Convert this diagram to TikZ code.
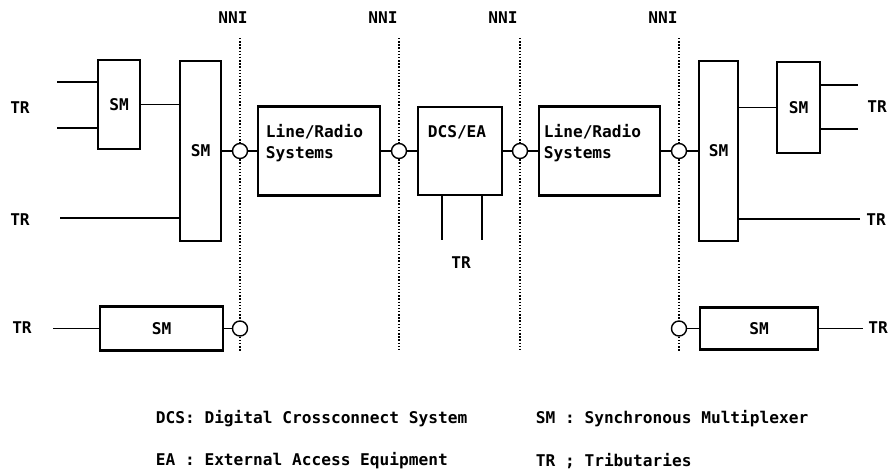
\documentclass[tikz,border=0pt]{standalone}
\usepackage{fontspec}
\setmainfont{DejaVu Sans Mono}
\begin{document}
\begin{tikzpicture}[x=0.02cm, y=-0.02cm, line width=1pt,
	  txt/.style={font=\bfseries\fontsize{9.2}{11.5}\selectfont},
	  box/.style={draw, inner sep=0pt, line width=1.2pt, txt},
	  nni/.style={draw, circle, inner sep=0pt, minimum size=0.3cm, line width=0.8pt},
	  sep/.style={line width=0.8pt, dash pattern=on 0.8pt off 1pt},
	  lbl/.style={txt, inner sep=0pt},
	  legend/.style={txt, inner sep=0pt, anchor=west}]
	  \useasboundingbox (0,0) rectangle (892,471);
	  
	  \node[box, minimum width=0.84cm, minimum height=1.78cm] (sm1) at (119,104.5) {SM};
	  \node[box, minimum width=0.82cm, minimum height=3.6cm] (sm2) at (200.5,151) {SM};
	  \node[box, minimum width=2.44cm, minimum height=1.78cm] (lr1) at (319,151) {};
	  \node[box, minimum width=1.68cm, minimum height=1.76cm] (dcs) at (460,151) {};
	  \node[box, minimum width=2.42cm, minimum height=1.78cm] (lr2) at (599.5,151) {};
	  \node[box, minimum width=0.78cm, minimum height=3.6cm] (sm3) at (718.5,151) {SM};
	  \node[box, minimum width=0.86cm, minimum height=1.82cm] (sm4) at (798.5,107.5) {SM};
	  \node[box, minimum width=2.46cm, minimum height=0.88cm] (sm5) at (161.5,328.5) {SM};
	  \node[box, minimum width=2.36cm, minimum height=0.84cm] (sm6) at (759,328.5) {SM};
	  
	  \node[lbl, anchor=north west, align=left] (lr1t) at ([xshift=0.16cm, yshift=-0.37cm]lr1.north west) {Line/Radio\\Systems};
	  \node[lbl, anchor=north west, align=left] (lr2t) at ([xshift=0.1cm, yshift=-0.37cm]lr2.north west) {Line/Radio\\Systems};
	  \node[lbl, anchor=north] (dcst) at ([xshift=-0.06cm, yshift=-0.37cm]dcs.north) {DCS/EA};
	  
	  \node[nni] (c1) at (240,151) {};
	  \node[nni] (c2) at (399,151) {};
	  \node[nni] (c3) at (520,151) {};
	  \node[nni] (c4) at (679,151) {};
	  \node[nni] (c5) at (240,328.5) {};
	  \node[nni] (c6) at (679,328.5) {};
	  
	  \node[lbl] (nni1) at (233,18) {NNI};
	  \node[lbl] (nni2) at (383,18) {NNI};
	  \node[lbl] (nni3) at (503,18) {NNI};
	  \node[lbl] (nni4) at (663,18) {NNI};
	  
	  \node[lbl] (tra) at (20,108) {TR};
	  \node[lbl] (trb) at (20,220) {TR};
	  \node[lbl] (trc) at (22,328) {TR};
	  \node[lbl] (trd) at (461,263) {TR};
	  \node[lbl] (tre) at (877,107) {TR};
	  \node[lbl] (trf) at (876,220) {TR};
	  \node[lbl] (trg) at (878,328) {TR};
	  
	  \coordinate (tr1) at (57,82);
	  \coordinate (tr2) at (57,128);
	  \coordinate (tr3) at (60,218);
	  \coordinate (tr4) at (858,85);
	  \coordinate (tr5) at (858,129);
	  \coordinate (tr6) at (860,219);
	  \coordinate (tr7) at (53,328.5);
	  \coordinate (tr8) at (863,328.5);
	  \coordinate (d1) at (442,240);
	  \coordinate (d2) at (482,240);
	  
	  \draw (tr1) -- (tr1 -| sm1.west);
	  \draw (tr2) -- (tr2 -| sm1.west);
	  \draw (sm1.east) -- (sm1.east -| sm2.west);
	  \draw (tr3) -- (tr3 -| sm2.west);
	  \draw (sm2) -- (c1) -- (lr1);
	  \draw (lr1) -- (c2) -- (dcs);
	  \draw (dcs) -- (c3) -- (lr2);
	  \draw (lr2) -- (c4) -- (sm3);
	  \draw (sm4.west -| sm3.east) -- (sm4.west);
	  \draw (tr4 -| sm4.east) -- (tr4);
	  \draw (tr5 -| sm4.east) -- (tr5);
	  \draw (tr6 -| sm3.east) -- (tr6);
	  \draw[line width=1.4pt] (d1 |- dcs.south) -- (d1);
	  \draw[line width=1.4pt] (d2 |- dcs.south) -- (d2);
	  \draw (tr7) -- (sm5);
	  \draw (sm5) -- (c5);
	  \draw (c6) -- (sm6);
	  \draw (sm6) -- (tr8);
	  
	  \coordinate (n1t) at (240,38);
	  \coordinate (n1b) at (240,351);
	  \coordinate (n2t) at (399,38);
	  \coordinate (n2b) at (399,352);
	  \coordinate (n3t) at (520,38);
	  \coordinate (n3b) at (520,352);
	  \coordinate (n4t) at (679,38);
	  \coordinate (n4b) at (679,351);
	  
	  \draw[sep] (n1t) -- (c1);
	  \draw[sep] (c1) -- (c5);
	  \draw[sep] (c5) -- (n1b);
	  \draw[sep] (n2t) -- (c2);
	  \draw[sep] (c2) -- (n2b);
	  \draw[sep] (n3t) -- (c3);
	  \draw[sep] (c3) -- (n3b);
	  \draw[sep] (n4t) -- (c4);
	  \draw[sep] (c4) -- (c6);
	  \draw[sep] (c6) -- (n4b);
	  
	  \node[legend] (leg1) at (155,419) {DCS: Digital Crossconnect System};
	  \node[legend] (leg2) at (535,419) {SM : Synchronous Multiplexer};
	  \node[legend] (leg3) at (155,461) {EA : External Access Equipment};
	  \node[legend] (leg4) at (535,461) {TR ; Tributaries};
	\end{tikzpicture}
\end{document}
